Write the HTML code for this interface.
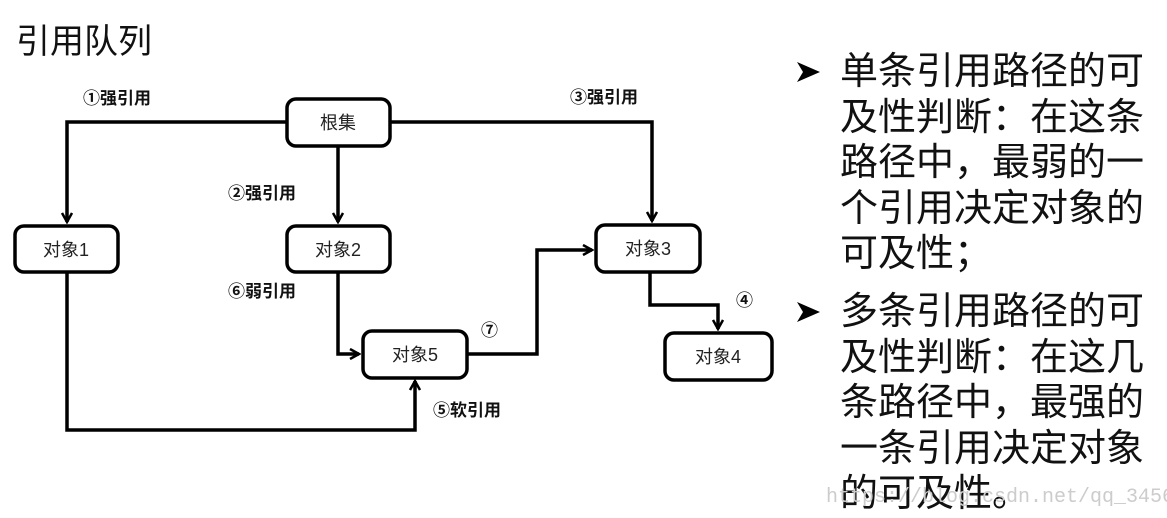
<!DOCTYPE html>
<html><head><meta charset="utf-8"><style>
body{margin:0;width:1167px;height:518px;background:#fff;overflow:hidden;font-family:"Liberation Sans","Noto Sans CJK SC",sans-serif;}
.t{position:absolute;white-space:nowrap;color:#111}
</style></head><body>
<svg width="1167" height="518" style="position:absolute;left:0;top:0">
<defs><marker id="a" markerWidth="12" markerHeight="12" refX="10" refY="6" orient="auto" markerUnits="userSpaceOnUse"><path d="M1,1 L10,6 L1,11" fill="none" stroke="#000" stroke-width="2.5"/></marker></defs>
<g fill="none" stroke="#000" stroke-width="3.5">
<polyline points="286,122 67,122 67,222" marker-end="url(#a)"/>
<polyline points="390,122 652,122 652,221" marker-end="url(#a)"/>
<polyline points="338,146 338,222" marker-end="url(#a)"/>
<polyline points="338,272 338,354 359,354" marker-end="url(#a)"/>
<polyline points="467,354 537,354 537,250 592,250" marker-end="url(#a)"/>
<polyline points="650,272 650,305 718,305 718,329" marker-end="url(#a)"/>
<polyline points="67,272 67,430 415,430 415,381" marker-end="url(#a)"/>
</g>
<g fill="#fff" stroke="#000" stroke-width="3.5">
<rect x="287" y="99" width="103" height="47" rx="9"/>
<rect x="15" y="226" width="103" height="46" rx="9"/>
<rect x="287" y="226" width="103" height="46" rx="9"/>
<rect x="596" y="225" width="104" height="47" rx="9"/>
<rect x="363" y="331" width="104" height="47" rx="9"/>
<rect x="665" y="333" width="107" height="47" rx="9"/>
</g>
<g font-size="18" text-anchor="middle" fill="#222" font-family="Liberation Sans,Noto Sans CJK SC,sans-serif">
<text x="338" y="129">根集</text>
<text x="66" y="256">对象1</text>
<text x="338" y="256">对象2</text>
<text x="648" y="255">对象3</text>
<text x="415" y="361">对象5</text>
<text x="718" y="363">对象4</text>
</g>
<g font-size="17" font-weight="bold" fill="#111" font-family="Liberation Sans,Noto Sans CJK SC,sans-serif">
<text x="83" y="104">①强引用</text>
<text x="228" y="199">②强引用</text>
<text x="570" y="103">③强引用</text>
<text x="736" y="306">④</text>
<text x="228" y="297">⑥弱引用</text>
<text x="481" y="336">⑦</text>
<text x="433" y="416">⑤软引用</text>
</g>
<g fill="#000"><path d="M797,62 L820,72 L797,82 L803,72Z"/><path d="M797,302 L820,312 L797,322 L803,312Z"/></g>
</svg>
<div class="t" style="left:16px;top:14px;font-size:34px;">引用队列</div>
<div class="t" style="left:840px;top:50px;font-size:38px;line-height:45.5px;">单条引用路径的可<br>及性判断：在这条<br>路径中，最弱的一<br>个引用决定对象的<br>可及性；</div>
<div class="t" style="left:840px;top:290px;font-size:38px;line-height:45.5px;">多条引用路径的可<br>及性判断：在这几<br>条路径中，最强的<br>一条引用决定对象<br>的可及性。</div>
<div class="t" style="left:826px;top:486px;font-size:20px;color:#ccc;font-family:'Liberation Mono',monospace;">https://blog.csdn.net/qq_34560242</div>
</body></html>
